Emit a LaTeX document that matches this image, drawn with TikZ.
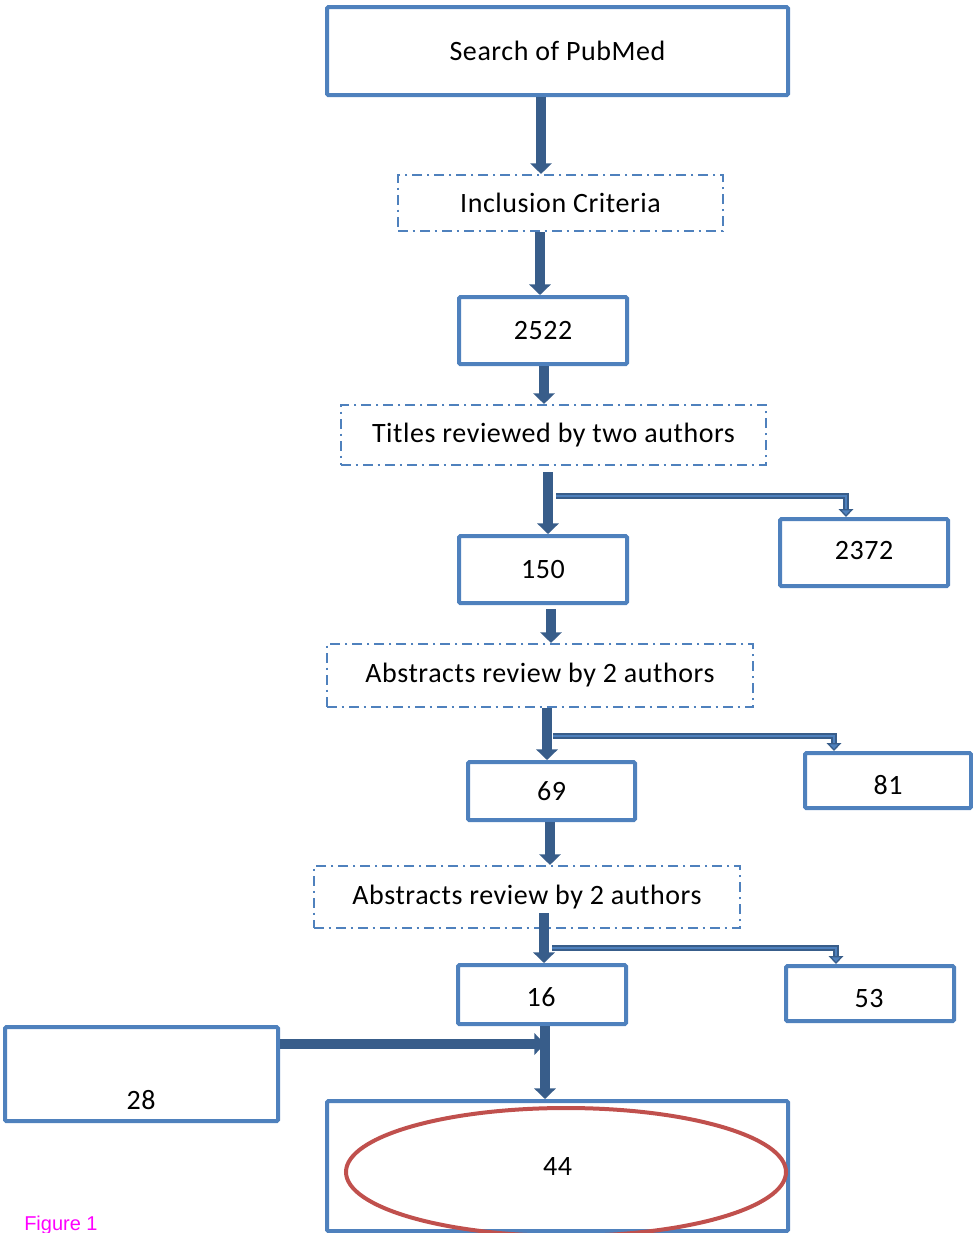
\documentclass[tikz,border=0pt]{standalone}
\usepackage{fontspec}
\setmainfont[LetterSpace=2]{Carlito}
\newfontfamily\figfont{Liberation Sans}
\usetikzlibrary{arrows.meta,calc,shapes.geometric}
\definecolor{boxblue}{HTML}{4F81BD}
\definecolor{arrblue}{HTML}{385D8A}
\definecolor{ovalred}{HTML}{C0504D}
\definecolor{figmag}{HTML}{FF00FF}
\begin{document}
\begin{tikzpicture}[x=0.75pt,y=-0.75pt,
  txt/.style={font=\fontsize{21}{25}\selectfont},
  solidbox/.style={draw=boxblue,line width=3pt,inner sep=0pt,rounded corners=1pt,txt},
  dashbox/.style={draw=boxblue,line width=1.6pt,inner sep=0pt,dash pattern=on 7.5pt off 3.5pt on 2pt off 3.5pt,txt},
  mainarrow/.style={draw=arrblue,line width=7.5pt,-{Triangle[width=16pt,length=8pt]}},
  branchdark/.style={draw=arrblue,line width=4.5pt,-{Triangle[width=11pt,length=6pt,fill=boxblue,line width=1pt]}},
  branchlight/.style={draw=boxblue,line width=2pt,shorten >=6pt}]
\useasboundingbox (0,0) rectangle (973,1233);

% nodes
\node[solidbox,minimum width=345.75pt,minimum height=66pt] (search) at (557.5,51) {Search of PubMed};
\node[dashbox,minimum width=243.75pt,minimum height=42pt] (incl) at (560.5,203) {Inclusion Criteria};
\node[solidbox,minimum width=126pt,minimum height=50.25pt] (n2522) at (543,330.5) {2522};
\node[dashbox,minimum width=318.75pt,minimum height=45pt] (titles) at (553.5,435) {Titles reviewed by two authors};
\node[solidbox,minimum width=126pt,minimum height=50.25pt] (n150) at (543,569.5) {150};
\node[solidbox,minimum width=126pt,minimum height=50.25pt] (n2372) at (864,552.5) {};
\node[txt] (t2372) at (864,550) {2372};
\node[dashbox,minimum width=319.5pt,minimum height=47.25pt] (abs1) at (540,675.5) {Abstracts review by 2 authors};
\node[solidbox,minimum width=125.25pt,minimum height=43.5pt] (n69) at (551.5,791) {69};
\node[solidbox,minimum width=124.5pt,minimum height=41.25pt] (n81) at (888,780.5) {};
\node[txt] (t81) at (888,785) {81};
\node[dashbox,minimum width=319.5pt,minimum height=46.5pt] (abs2) at (527,897) {Abstracts review by 2 authors};
\node[solidbox,minimum width=126pt,minimum height=44.25pt] (n16) at (542,994.5) {};
\node[txt] (t16) at (541,997) {16};
\node[solidbox,minimum width=126pt,minimum height=41.25pt] (n53) at (870,993.5) {};
\node[txt] (t53) at (869,998) {53};
\node[solidbox,minimum width=204.75pt,minimum height=70.5pt] (n28) at (141.5,1074) {};
\node[txt] (t28) at (141,1100) {28};
\node[solidbox,minimum width=345.75pt,minimum height=97.5pt] (n44) at (557.5,1166) {44};
\node[ellipse,draw=ovalred,line width=3pt,minimum width=330pt,minimum height=96pt,inner sep=0pt] (oval) at (566,1172) {};
\node[anchor=base west,text=figmag,inner sep=0pt,font=\figfont\fontsize{15}{18}\selectfont] (fig) at (24,1230) {Figure 1};

% main arrows
\coordinate (a1s) at ($(search.south)+(-16.5,0)$);
\draw[mainarrow] (a1s) -- (a1s |- incl.north);
\coordinate (a2s) at ($(incl.south)+(-20.5,0)$);
\draw[mainarrow] (a2s) -- (a2s |- n2522.north);
\coordinate (a3s) at ($(n2522.south)+(1,0)$);
\draw[mainarrow] (a3s) -- (a3s |- titles.north);
\coordinate (a4s) at ($(titles.south)+(-5.5,6)$);
\draw[mainarrow] (a4s) -- (a4s |- n150.north);
\coordinate (a5s) at ($(n150.south)+(8,4)$);
\draw[mainarrow] (a5s) -- (a5s |- abs1.north);
\coordinate (a6s) at ($(abs1.south)+(7,0)$);
\draw[mainarrow] (a6s) -- (a6s |- n69.north);
\coordinate (a7s) at ($(n69.south)+(-1.5,0)$);
\draw[mainarrow] (a7s) -- (a7s |- abs2.north);
\coordinate (a8s) at ($(abs2.south)+(17,-16)$);
\draw[mainarrow] (a8s) -- (a8s |- n16.north);
\coordinate (a9s) at ($(n16.south)+(3,0)$);
\draw[mainarrow] (a9s) -- (a9s |- n44.north);
\coordinate (a10s) at ($(n28.east)+(0,-30)$);
\draw[mainarrow] (a10s) -- (a10s -| a9s);

% branch arrows
\coordinate (b1s) at ($(titles.south)+(2.5,30)$);
\coordinate (b1e) at ($(n2372.north)+(-18,0)$);
\draw[branchdark] (b1s) -- (b1s -| b1e) -- (b1e);
\draw[branchlight] (b1s) -- (b1s -| b1e) -- (b1e);
\coordinate (b2s) at ($(abs1.south)+(13,28)$);
\coordinate (b2e) at ($(n81.north)+(-54,0)$);
\draw[branchdark] (b2s) -- (b2s -| b2e) -- (b2e);
\draw[branchlight] (b2s) -- (b2s -| b2e) -- (b2e);
\coordinate (b3s) at ($(abs2.south)+(25,19)$);
\coordinate (b3e) at ($(n53.north)+(-34,0)$);
\draw[branchdark] (b3s) -- (b3s -| b3e) -- (b3e);
\draw[branchlight] (b3s) -- (b3s -| b3e) -- (b3e);
\end{tikzpicture}
\end{document}
